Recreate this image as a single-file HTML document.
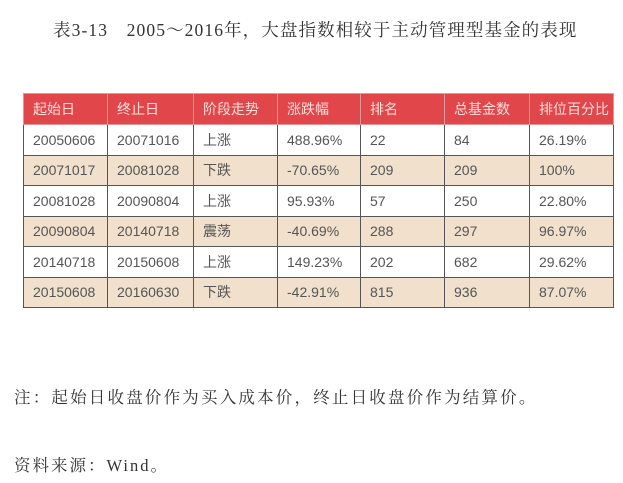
<!DOCTYPE html>
<html><head><meta charset="utf-8"><style>
body{margin:0;width:623px;height:483px;background:#fff;position:relative;overflow:hidden}
.t{position:absolute;font-family:"Liberation Serif","Noto Serif CJK SC",serif;color:#333;white-space:nowrap}
table{position:absolute;left:23px;top:93px;border-collapse:collapse;font-family:"Liberation Sans","Noto Sans CJK SC",sans-serif;font-size:14px;color:#555}
td{height:30.5px;padding:0 0 0 9px;border:1px solid #555;box-sizing:border-box}
tr.h td{background:#e1464a;color:#fbe0dc;border-color:#d99;height:31px}
tr.b td{background:#f0e0cc}
</style></head><body>
<div class="t" style="left:53px;top:17px;font-size:17.5px;letter-spacing:1.1px">表3-13　2005～2016年，大盘指数相较于主动管理型基金的表现</div>
<table>
<colgroup><col style="width:84px"><col style="width:86px"><col style="width:84px"><col style="width:83px"><col style="width:84px"><col style="width:85px"><col style="width:84px"></colgroup>
<tr class="h"><td>起始日</td><td>终止日</td><td>阶段走势</td><td>涨跌幅</td><td>排名</td><td>总基金数</td><td>排位百分比</td></tr>
<tr><td>20050606</td><td>20071016</td><td>上涨</td><td>488.96%</td><td>22</td><td>84</td><td>26.19%</td></tr>
<tr class="b"><td>20071017</td><td>20081028</td><td>下跌</td><td>-70.65%</td><td>209</td><td>209</td><td>100%</td></tr>
<tr><td>20081028</td><td>20090804</td><td>上涨</td><td>95.93%</td><td>57</td><td>250</td><td>22.80%</td></tr>
<tr class="b"><td>20090804</td><td>20140718</td><td>震荡</td><td>-40.69%</td><td>288</td><td>297</td><td>96.97%</td></tr>
<tr><td>20140718</td><td>20150608</td><td>上涨</td><td>149.23%</td><td>202</td><td>682</td><td>29.62%</td></tr>
<tr class="b"><td>20150608</td><td>20160630</td><td>下跌</td><td>-42.91%</td><td>815</td><td>936</td><td>87.07%</td></tr>
</table>
<div class="t" style="left:14px;top:384px;font-size:16.5px;letter-spacing:2.2px">注：起始日收盘价作为买入成本价，终止日收盘价作为结算价。</div>
<div class="t" style="left:14px;top:452px;font-size:16.5px;letter-spacing:2px">资料来源：Wind。</div>
</body></html>
